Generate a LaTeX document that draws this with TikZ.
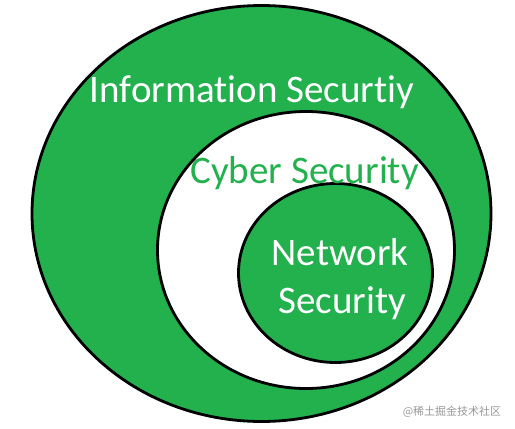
\documentclass[tikz,border=0pt]{standalone}
\usepackage{fontspec}
\setmainfont[Ligatures={NoCommon,NoRare}]{Carlito}
\newfontfamily\cjk{Noto Sans CJK SC}
\usetikzlibrary{shapes.geometric}
\definecolor{pgreen}{RGB}{34,177,76}
\begin{document}
\begin{tikzpicture}[x=1pt,y=-1pt,
  ring/.style={ellipse, draw=black, line width=2.8pt, inner sep=0pt},
  lbl/.style={font=\fontsize{39}{48}\selectfont, inner sep=0pt, align=center}]
\useasboundingbox[fill=white] (0,0) rectangle (515,429);
\node[ring, fill=pgreen, minimum width=459pt, minimum height=416pt] (info) at (261.5,213.5) {};
\node[ring, fill=white, minimum width=297pt, minimum height=277pt] (cyber) at (306,250) {};
\node[ring, fill=pgreen, minimum width=194pt, minimum height=179pt] (net) at (335.5,273) {};
\node[lbl, text=white, anchor=base] (infot) at (252,102) {Information Securtiy};
\node[lbl, text=pgreen, anchor=base] (cybert) at (304.5,183) {Cyber Security};
\node[lbl, text=white, anchor=base] (nett) at (340,265) {Network};
\node[lbl, text=white, anchor=base] (nett2) at (342,313) {Security};
\node[font=\cjk\fontsize{11}{13}\selectfont, text=black!40, inner sep=0pt, anchor=base] (wm) at (452,415) {@稀土掘金技术社区};
\end{tikzpicture}
\end{document}
